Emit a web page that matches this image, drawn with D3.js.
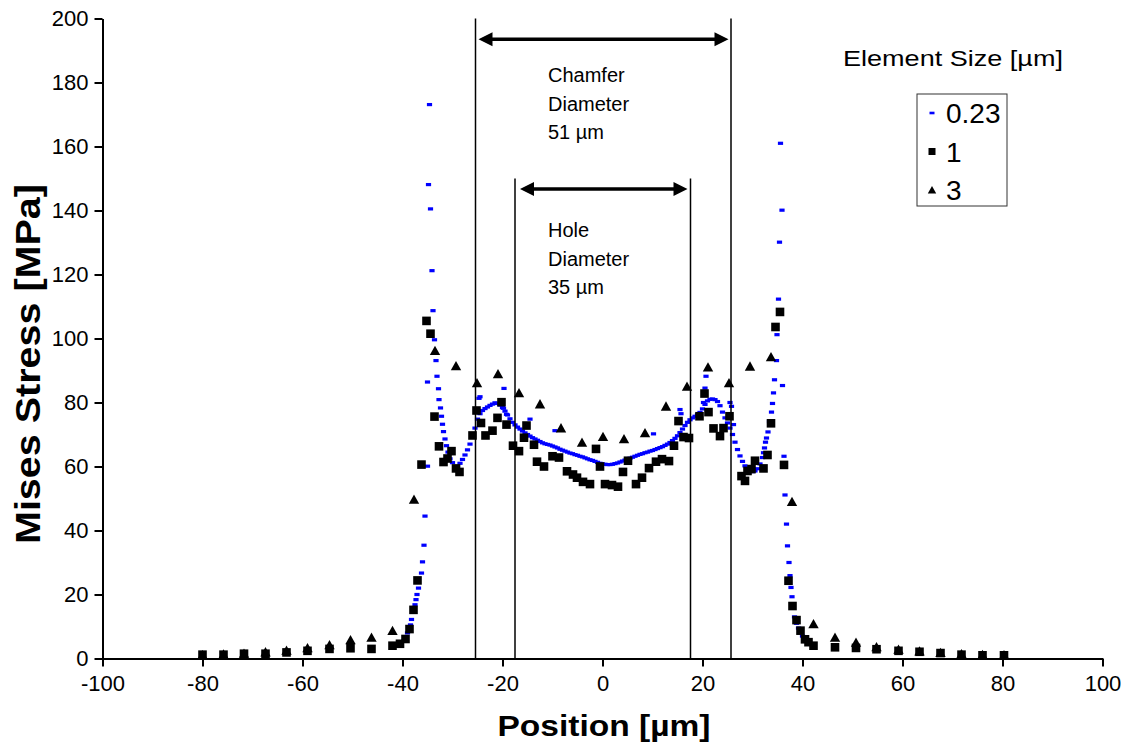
<!DOCTYPE html>
<html><head><meta charset="utf-8">
<script src="https://cdn.jsdelivr.net/npm/d3@7"></script>
<style>body{margin:0;background:#fff} text{font-family:"Liberation Sans",Arial,sans-serif;fill:#000}</style>
</head><body><svg id="c" width="1135" height="750"></svg>
<script>
// ---- data ----
const fineSeries = [ // element size 0.23 µm : [position µm, stress MPa]
[-80,1.2],[-75.8,1.2],[-71.7,1.5],[-67.4,1.5],[-63.2,1.9],[-59,2.4],[-54.6,2.9],[-50.4,3.2],[-46.2,3.0],[-42,4.0],[-40.5,4.6],
[-39.7,5.5],[-39.3,6.5],[-39,8],[-38.7,9.5],[-38.4,10.5],[-38.2,12.2],[-37.8,15.2],[-37.5,16.8],[-37.3,18.4],[-37.1,20],[-36.8,22],
[-36.2,26.7],[-36,30.2],[-35.7,35.4],[-35.5,44.5],[-35,60.1],[-35,86.4],[-34.8,148.1],[-34.6,173.1],[-34.4,140.5],[-34.1,121.2],[-33.9,108.7],
[-33.6,99.6],[-33.3,93.1],[-33.1,88.2],[-32.8,84.3],[-32.7,80.9],[-32.4,78.3],[-32.2,75.7],[-32,73.2],[-31.8,70.9],[-31.5,68.6],
[-31.2,66.5],[-30.9,64.5],[-30.5,62.4],[-30,61.2],[-29.5,59.4],
[-29,60.0],[-28.5,61.0],[-28,62.2],[-27.5,63.6],[-27,65.2],[-26.5,67.0],[-26,69.2],[-25.5,72.0],[-25,74.8],[-24.5,76.5],[-24,77.5],
[-23.5,78.1],[-23,78.6],[-22.5,79.1],[-22,79.5],[-21.5,79.9],[-21,79.7],[-20.5,79.2],[-20,78.4],[-19.5,77.3],[-19,76.1],[-18.5,74.9],
[-18,73.8],[-17.5,73.0],[-17,72.3],[-16.5,71.7],[-16,71.1],[-15.5,70.5],[-15,70.0],[-14.5,69.5],[-14,69.0],[-13.5,68.6],[-13,68.2],
[-12.5,67.8],[-12,67.4],[-11.5,67.1],[-11,66.9],[-10.5,66.7],[-10,66.4],[-9.5,66.1],[-9,65.8],[-8.5,65.4],[-8,65.1],[-7.5,64.8],
[-7,64.5],[-6.5,64.2],[-6,64.0],[-5.5,63.7],[-5,63.5],[-4.5,63.2],[-4,63.0],[-3.5,62.7],[-3,62.4],[-2.5,62.1],[-2,61.9],[-1.5,61.6],
[-1,61.3],[-0.5,61.0],[0,60.8],[0.5,60.7],[1,60.6],[1.5,60.6],[2,60.7],[2.5,60.9],[3,61.1],[3.5,61.4],[4,61.7],[4.5,62.0],[5,62.3],
[5.5,62.6],[6,62.9],[6.5,63.2],[7,63.5],[7.5,63.8],[8,64.0],[8.5,64.3],[9,64.5],[9.5,64.8],[10,65.0],[10.5,65.3],[11,65.6],[11.5,65.9],
[12,66.2],[12.5,66.6],[13,67.0],[13.5,67.5],[14,68.1],[14.5,68.8],[15,69.6],[15.5,70.6],[16,71.7],[16.5,72.8],[17,73.8],[17.5,74.6],
[18,75.2],[18.5,75.7],[19,76.2],[19.5,76.9],[20,78.0],[20.5,79.4],[21,80.5],[21.5,81.0],[22,81.1],[22.5,80.9],[23,80.3],[23.5,79.0],
[24,77.0],[24.5,75.2],[25,73.6],[25.5,72.0],[26,70.0],[26.5,67.6],[27,65.3],[27.5,63.3],[28,61.6],[28.5,60.2],[29,59.2],[29.5,58.6],
[30,58.4],[30.5,58.6],[31,59.3],[31.5,60.8],[32,62.8],
[32.2,64.3],[32.4,65.8],[32.6,67.6],[32.8,68.9],[33.1,70.8],[33.4,74.0],[33.8,77],[34,79.7],[34.2,83],[34.4,87.1],[34.8,93.1],[34.9,101.2],
[35.2,112.3],[35.4,130.1],[35.6,161],[35.9,140.1],[36,85.3],[36.3,63.2],[36.5,51.1],[36.8,42],[37,35.2],[37.3,30],[37.5,25.9],
[37.7,22.2],[37.9,19.3],[38.1,16],[38.4,13],[38.8,11],[39.2,9.5],[39.6,8.2],[40,7],[40.5,5.9],[41.2,5],[42.2,4],[46.5,3.5],
[50.7,3.3],[54.8,2.8],[59.2,2.4],[63.4,2.1],[67.6,1.7],[71.8,1.3],[76,1.0],[80.3,1.0],
// scattered nodes above the main trace
[-24.7,81.3],[-24.5,81.8],[-19.7,84.4],[-19.8,78.2],[-19.2,76.3],[-14.5,74.8],[-9.5,71.2],
[10.2,70.2],[15.5,77.8],[15.7,76.5],[20.7,88.2],[20.5,84.5],[20.2,80],[25.5,80],[25.8,78.8],[26.2,73.1]
];
const midSeries = [ // element size 1 µm
[-80,1.2],[-75.8,1.2],[-71.7,1.5],[-67.4,1.5],[-63.2,1.9],[-59,2.4],[-54.6,3.0],[-50.4,3.2],[-46.2,3.0],[-42,4.0],[-40.5,4.6],
[-39.4,6.1],[-38.6,9.2],[-37.8,15.2],[-37,24.4],[-36.2,60.6],[-35.2,105.5],[-34.4,101.5],[-33.6,75.6],[-32.7,66.3],[-31.8,61.4],
[-31,62.5],[-30.2,64.8],[-29.3,59.4],[-28.6,58.3],
[-26,69.7],[-25.2,77.5],[-24.3,73.6],[-23.4,69.7],[-22,71.2],[-21,75.2],[-20.2,80.1],[-19.2,73.1],[-17.9,66.5],[-16.7,64.8],
[-15.7,69],[-15.2,72.8],[-13.7,66.8],[-13.1,61.5],[-11.7,60],[-10,63.2],[-8.7,62.8],[-7.1,58.5],[-5.9,57.5],[-5.1,56.5],[-3.9,55.2],
[-2.5,54.5],[-1.3,65.5],[-0.5,60],[0.5,54.5],[1.9,54.2],[3.1,53.7],[4.1,58.3],[5.1,61.8],[6.7,54.5],[7.9,56.5],[9.3,59.5],[10.7,61.5],
[11.9,62.3],[13.3,61.7],[14.3,66.5],[15.2,74.2],[16.2,69.2],[17.3,68.9],[19.4,75.7],[20.4,82.8],[21.2,77],[22.2,71.9],[23.5,69.5],
[24.2,72],[25.4,75.7],[27.8,57],[28.5,55.5],[29,58.6],[29.8,59.2],[30.5,61.8],[32.2,59.4],[33,63.6],[33.7,73.5],[34.6,103.6],
[35.5,108.3],[36.3,60.5],[37.2,24.3],[38,16.4],[38.8,12],[39.6,8.7],[40.5,6],[41.2,5.1],[42.2,4],[46.5,3.5],[50.7,3.3],[54.8,2.9],
[59.2,2.4],[63.4,2.1],[67.6,1.7],[71.8,1.2],[76,1.0],[80.3,1.0]
];
const coarseSeries = [ // element size 3 µm
[-80,1.1],[-75.8,1.3],[-71.7,1.6],[-67.4,2.0],[-63.2,2.5],[-59,3.3],[-54.6,4.2],[-50.4,5.8],[-46.2,6.6],[-42,8.7],[-37.7,49.7],
[-33.5,96.2],[-29.3,91.4],[-25.1,86.1],[-20.9,88.9],[-16.7,83],[-12.5,79.5],[-8.3,72],[-4.1,67.5],[0.1,69.3],[4.3,68.6],[8.5,70.5],
[12.7,78.8],[16.9,85],[21.1,91],[25.3,86.1],[29.5,91.3],[33.7,94.2],[37.9,49],[42.2,10.8],[46.5,6.6],[50.7,5.0],[54.8,3.6],
[59.2,2.8],[63.4,2.3],[67.6,1.8],[71.8,1.4],[76,1.2],[80.3,1.1]
];
const xTickValues = [-100,-80,-60,-40,-20,0,20,40,60,80,100];
const yTickValues = [0,20,40,60,80,100,120,140,160,180,200];
const legendTitle = "Element Size [µm]";
const legendLabels = ["0.23","1","3"];
const chamferEdges = [-25.4, 25.7];     // vertical dimension lines (µm)
const holeEdges = [-17.5, 17.6];
const chamferText = ["Chamfer","Diameter","51 µm"];
const holeText = ["Hole","Diameter","35 µm"];

// ---- drawing ----
const svg = d3.select("#c");
const x = d3.scaleLinear().domain([-100,100]).range([102.5,1102.5]);
const y = d3.scaleLinear().domain([0,200]).range([658.5,18.5]);
const FONT = '"Liberation Sans",Arial,sans-serif';

const xAxis = d3.axisBottom(x).tickValues(xTickValues).tickFormat(d=>String(d)).tickSize(8).tickSizeOuter(0).tickPadding(9);
const yAxis = d3.axisLeft(y).tickValues(yTickValues).tickFormat(d=>String(d)).tickSize(8).tickSizeOuter(0).tickPadding(6);
const gx = svg.append("g").attr("transform",`translate(0,${y(0)})`).call(xAxis);
const gy = svg.append("g").attr("transform",`translate(${x(-100)},0)`).call(yAxis);
[gx,gy].forEach(g=>{
  g.selectAll("path,line").attr("stroke","#000").attr("stroke-width",2);
  g.selectAll("text").attr("font-size",22).attr("font-family",FONT).attr("fill","#000");
});

// series
svg.append("g").selectAll("rect").data(fineSeries).join("rect")
  .attr("x",d=>x(d[0])-2.6).attr("y",d=>y(d[1])-1.6).attr("width",5.2).attr("height",3.2).attr("fill","#0000ff");
svg.append("g").selectAll("rect").data(midSeries).join("rect")
  .attr("x",d=>x(d[0])-4.3).attr("y",d=>y(d[1])-4.3).attr("width",8.6).attr("height",8.6).attr("fill","#000");
svg.append("g").selectAll("path").data(coarseSeries).join("path")
  .attr("transform",d=>`translate(${x(d[0])},${y(d[1])})`).attr("d","M0,-5L5.2,4.3L-5.2,4.3Z").attr("fill","#000");

// dimension lines
const dims = svg.append("g");
chamferEdges.forEach(v=>dims.append("line").attr("x1",x(v)).attr("x2",x(v)).attr("y1",y(0)).attr("y2",y(200)).attr("stroke","#000").attr("stroke-width",1.5));
holeEdges.forEach(v=>dims.append("line").attr("x1",x(v)).attr("x2",x(v)).attr("y1",y(0)).attr("y2",y(150)).attr("stroke","#000").attr("stroke-width",1.5));

function arrow(x1,x2,yy){
  const L=14, h=7;
  const g = svg.append("g");
  g.append("line").attr("x1",x1+L-2).attr("x2",x2-L+2).attr("y1",yy).attr("y2",yy).attr("stroke","#000").attr("stroke-width",3.5);
  g.append("path").attr("d",`M${x1},${yy}L${x1+L},${yy-h}L${x1+L},${yy+h}Z`).attr("fill","#000");
  g.append("path").attr("d",`M${x2},${yy}L${x2-L},${yy-h}L${x2-L},${yy+h}Z`).attr("fill","#000");
}
arrow(x(-24.8), x(25.2), y(193.5));
arrow(x(-16.5), x(17.0), y(146.7));

const ann = svg.append("g").attr("font-size",20);
chamferText.forEach((t,i)=>ann.append("text").attr("x",548).attr("y",82+i*28.7).text(t));
holeText.forEach((t,i)=>ann.append("text").attr("x",548).attr("y",237+i*28.7).text(t));

// legend
svg.append("text").attr("x",843).attr("y",66).attr("font-size",22).attr("textLength",220).attr("lengthAdjust","spacingAndGlyphs").text(legendTitle);
svg.append("rect").attr("x",917).attr("y",94).attr("width",90).attr("height",112).attr("fill","none").attr("stroke","#333").attr("stroke-width",1);
const lg = svg.append("g");
legendLabels.forEach((t,i)=>{
  const cy = 113 + i*38.5;
  const m = lg.append("g").attr("transform",`translate(932,${cy})`);
  if(i===0) m.append("rect").attr("x",-2.5).attr("y",-1.3).attr("width",5).attr("height",2.6).attr("fill","#0000ff");
  if(i===1) m.append("rect").attr("x",-3.5).attr("y",-3.5).attr("width",7).attr("height",7).attr("fill","#000");
  if(i===2) m.append("path").attr("d","M0,-4L4.2,3.5L-4.2,3.5Z").attr("fill","#000");
  lg.append("text").attr("x",946).attr("y",cy+10).attr("font-size",28).text(t);
});

// axis titles
svg.append("text").attr("x",604).attr("y",736).attr("text-anchor","middle").attr("font-size",29).attr("font-weight","bold")
  .attr("textLength",213).attr("lengthAdjust","spacingAndGlyphs").text("Position [µm]");
svg.append("text").attr("transform","translate(39.5,364) rotate(-90)").attr("text-anchor","middle").attr("font-size",35).attr("font-weight","bold")
  .attr("textLength",360).attr("lengthAdjust","spacingAndGlyphs").text("Mises Stress [MPa]");
</script></body></html>
